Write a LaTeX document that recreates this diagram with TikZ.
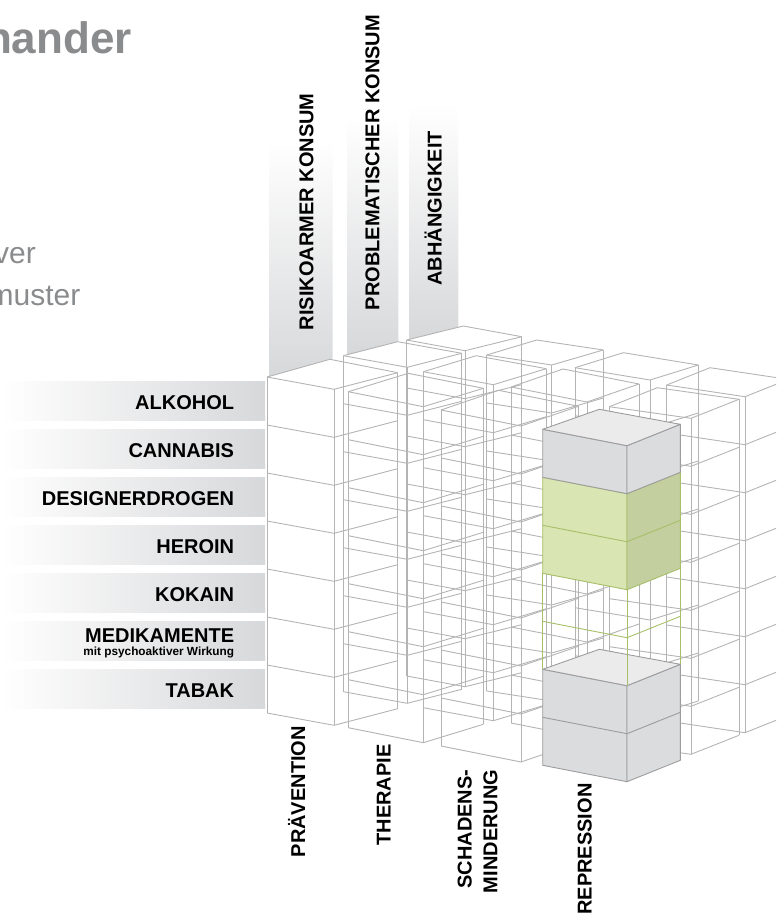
\documentclass[tikz,border=0pt]{standalone}
\usepackage{fontspec}
\setmainfont{Liberation Sans}
\usetikzlibrary{calc}
\definecolor{wirec}{HTML}{B4B4B4}
\definecolor{barg}{HTML}{D7D8DA}
\definecolor{titleg}{HTML}{8A8B8D}
\definecolor{greyface}{HTML}{DBDCDE}
\definecolor{greytop}{HTML}{EBEBEC}
\definecolor{greyline}{HTML}{9C9C9E}
\definecolor{greenfront}{HTML}{D9E5B2}
\definecolor{greenside}{HTML}{C3CF9F}
\definecolor{greenline}{HTML}{A6BF68}
\tikzset{
  wire/.style={draw=wirec, line width=0.9pt},
  lbl/.style={font=\bfseries\fontsize{20}{22}\selectfont, inner sep=0pt, text=black},
  hgrey/.style={draw=greyline, line width=0.9pt, line join=round},
  hgreen/.style={draw=greenline, line width=0.9pt, line join=round}
}
\newcommand\wirestack[8]{%
  \coordinate (FL) at (#1,#2);
  \coordinate (FR) at (#3,#4);
  \coordinate (BR) at (#5,#6);
  \coordinate (BL) at (#7,#8);
  \draw[wire] (FL) -- (BL) -- (BR);
  \foreach \k in {0,...,7}{
    \draw[wire] ($(FL)+(0,48*\k)$) -- ($(FR)+(0,48*\k)$) -- ($(BR)+(0,48*\k)$);
  }
  \draw[wire] (FL) -- ++(0,336) (FR) -- ++(0,336) (BR) -- ++(0,336);
}
\begin{document}
\begin{tikzpicture}[x=1pt,y=-1pt]
\path[use as bounding box] (0,0) rectangle (776,915);
\clip (0,0) rectangle (776,915);

% title fragments
\node[anchor=base east, inner sep=0pt, font=\bfseries\fontsize{44}{48}\selectfont, text=titleg] (title) at (132,53.3) {nander};
\node[anchor=base east, inner sep=0pt, font=\fontsize{30}{32}\selectfont, text=titleg] (sub1) at (36,263.3) {ver};
\node[anchor=base east, inner sep=0pt, font=\fontsize{30}{32}\selectfont, text=titleg] (sub2) at (80.5,305.3) {muster};

% left label bars
\foreach \k in {0,...,6}{
  \fill[left color=white, right color=barg] (0,{381+48*\k}) rectangle (265,{420+48*\k});
}
% top label bars
\shade[top color=white, bottom color=barg] (269.3,140) -- (332.7,140) -- (332.7,358.5) -- (269.3,376.4) -- cycle;
\shade[top color=white, bottom color=barg] (347,115) -- (398.3,115) -- (398.3,341.6) -- (347,354.7) -- cycle;
\shade[top color=white, bottom color=barg] (409,103) -- (458.3,103) -- (458.3,327.2) -- (409,339.4) -- cycle;

% left labels
\node[lbl, anchor=base east] (alk) at (234.3,409.3) {ALKOHOL};
\node[lbl, anchor=base east] (can) at (234.3,457.3) {CANNABIS};
\node[lbl, anchor=base east] (des) at (234.3,505.3) {DESIGNERDROGEN};
\node[lbl, anchor=base east] (her) at (234.3,553.3) {HEROIN};
\node[lbl, anchor=base east] (kok) at (234.3,601.3) {KOKAIN};
\node[lbl, anchor=base east] (med) at (234.3,642.8) {MEDIKAMENTE};
\node[anchor=base east, inner sep=0pt, font=\bfseries\fontsize{11.8}{12}\selectfont] (medsub) at (234.3,655) {mit psychoaktiver Wirkung};
\node[lbl, anchor=base east] (tab) at (234.3,697.3) {TABAK};

% top labels
\node[lbl, rotate=90, anchor=base] (ris) at (313.3,211.7) {RISIKOARMER KONSUM};
\node[lbl, rotate=90, anchor=base] (pro) at (379.3,162.5) {PROBLEMATISCHER KONSUM};
\node[lbl, rotate=90, anchor=base] (abh) at (441.7,208.3) {ABHÄNGIGKEIT};

% bottom labels
\node[lbl, rotate=90, anchor=base] (prae) at (305,791.7) {PRÄVENTION};
\node[lbl, rotate=90, anchor=base] (ther) at (390.7,795) {THERAPIE};
\node[lbl, rotate=90, anchor=base east] (scha) at (471.7,769.5) {SCHADENS-};
\node[lbl, rotate=90, anchor=base east] (mind) at (497.3,769.5) {MINDERUNG};
\node[lbl, rotate=90, anchor=base] (repr) at (591.7,849) {REPRESSION};

% wireframe stacks
\wirestack{267}{377}{334}{389.3}{397.7}{372.7}{330}{359.3}
\wirestack{343.3}{355.7}{407.3}{367.3}{461.7}{353.3}{397.7}{341.7}
\wirestack{406.7}{340}{465}{350.7}{521.7}{336.7}{463.3}{326}
\wirestack{348.3}{391.7}{423.3}{406.7}{483.3}{388.3}{408.3}{373.3}
\wirestack{423.3}{371.7}{493.3}{384.7}{546.3}{368.7}{476.3}{355.7}
\wirestack{486.7}{355}{551.7}{365}{603.3}{350}{536.7}{340}
\wirestack{441}{410}{521}{426}{578.5}{406.3}{498.5}{390.3}
\wirestack{511}{387}{587}{402}{639}{384}{563}{369}
\wirestack{575}{367.7}{650}{380}{698.3}{365}{623.3}{352.7}
\wirestack{609.3}{406.7}{691}{418.3}{739}{399.3}{657.3}{387.7}
\wirestack{666.7}{385}{745}{396.7}{788.3}{379.4}{710}{367.7}

% highlighted stack (Repression)
\coordinate (hFL) at (542.7,429.3);
\coordinate (hFR) at (627,445.7);
\coordinate (hBR) at (680.3,424.3);
\coordinate (hBL) at (599.3,409.3);
% lower grey block (levels 6-7)
\filldraw[hgrey, fill=greyface] ($(hFL)+(0,240)$) -- ($(hFR)+(0,240)$) -- ($(hFR)+(0,336)$) -- ($(hFL)+(0,336)$) -- cycle;
\filldraw[hgrey, fill=greyface] ($(hFR)+(0,240)$) -- ($(hBR)+(0,240)$) -- ($(hBR)+(0,336)$) -- ($(hFR)+(0,336)$) -- cycle;
\filldraw[hgrey, fill=greytop] ($(hFL)+(0,240)$) -- ($(hFR)+(0,240)$) -- ($(hBR)+(0,240)$) -- ($(hBL)+(0,240)$) -- cycle;
\draw[hgrey] ($(hFL)+(0,288)$) -- ($(hFR)+(0,288)$) -- ($(hBR)+(0,288)$);
% green outline (levels 4-5)
\draw[hgreen] ($(hFL)+(0,144)$) -- ($(hFL)+(0,240)$) ($(hFR)+(0,144)$) -- ($(hFR)+(0,240)$) ($(hBR)+(0,144)$) -- ($(hBR)+(0,240)$);
\draw[hgreen] ($(hFL)+(0,192)$) -- ($(hFR)+(0,192)$) -- ($(hBR)+(0,192)$);
% green filled (levels 2-3)
\filldraw[hgreen, fill=greenfront] ($(hFL)+(0,48)$) -- ($(hFR)+(0,48)$) -- ($(hFR)+(0,144)$) -- ($(hFL)+(0,144)$) -- cycle;
\filldraw[hgreen, fill=greenside] ($(hFR)+(0,48)$) -- ($(hBR)+(0,48)$) -- ($(hBR)+(0,144)$) -- ($(hFR)+(0,144)$) -- cycle;
\draw[hgreen] ($(hFL)+(0,96)$) -- ($(hFR)+(0,96)$) -- ($(hBR)+(0,96)$);
% top grey box (level 1)
\filldraw[hgrey, fill=greyface] (hFL) -- (hFR) -- ($(hFR)+(0,48)$) -- ($(hFL)+(0,48)$) -- cycle;
\filldraw[hgrey, fill=greyface] (hFR) -- (hBR) -- ($(hBR)+(0,48)$) -- ($(hFR)+(0,48)$) -- cycle;
\filldraw[hgrey, fill=greytop] (hFL) -- (hFR) -- (hBR) -- (hBL) -- cycle;
\end{tikzpicture}
\end{document}
